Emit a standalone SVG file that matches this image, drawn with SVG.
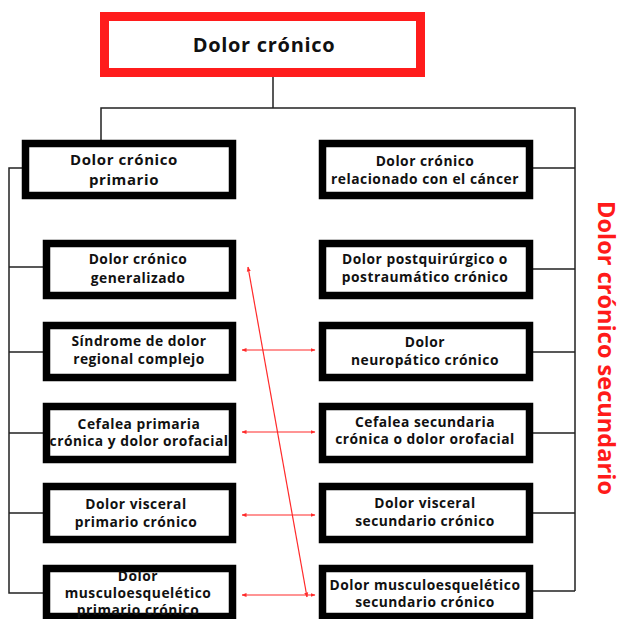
<svg xmlns="http://www.w3.org/2000/svg" width="624" height="619" viewBox="0 0 624 619">
<defs>
<style>
.box{fill:#fff;stroke:#000;stroke-width:7.5}
.t{font-family:"Open Sans","Noto Sans","DejaVu Sans",sans-serif;font-weight:bold;font-size:13.8px;letter-spacing:0.5px;fill:#111;text-anchor:middle}
.c{fill:none;stroke:#222;stroke-width:1.5}
.r{fill:none;stroke:#ff2a2a;stroke-width:1.2;marker-start:url(#ah);marker-end:url(#ah)}
</style>
<marker id="ah" viewBox="0 0 10 10" refX="9" refY="5" markerWidth="5" markerHeight="5" orient="auto-start-reverse" markerUnits="userSpaceOnUse">
<path d="M0,1 L10,5 L0,9 z" fill="#ff2a2a"/>
</marker>
</defs>
<rect width="624" height="619" fill="#fff"/>
<g id="connectors">
<path class="c" d="M273,77 V108 M101,140 V108 H575 V591"/>
<path class="c" d="M22,168 H9 V593 H43 M9,267 H43 M9,352 H43 M9,433 H43 M9,513 H43"/>
<path class="c" d="M533,168 H575 M533,269 H575 M533,352 H575 M533,433 H575 M533,513 H575 M533,591 H575"/>
<line class="r" x1="242" y1="350" x2="315" y2="350"/>
<line class="r" x1="242" y1="432" x2="315" y2="432"/>
<line class="r" x1="242" y1="515" x2="315" y2="515"/>
<line class="r" x1="242" y1="595" x2="315" y2="595"/>
<line class="r" x1="248" y1="267" x2="307" y2="597"/>
</g>
<g id="root">
<rect x="104.5" y="16.5" width="316" height="56" fill="#fff" stroke="#ff1c1c" stroke-width="9"/>
<text class="t" x="264" y="52" style="font-size:20px;letter-spacing:0.7px">Dolor crónico</text>
</g>
<g id="primario">
<rect class="box" x="25.5" y="143.5" width="207" height="52"/>
<text class="t" x="124" y="165" style="font-size:15px;letter-spacing:0.6px">Dolor crónico</text>
<text class="t" x="124" y="185" style="font-size:15px;letter-spacing:0.6px">primario</text>
</g>
<g id="cancer">
<rect class="box" x="322.5" y="143.5" width="207" height="52"/>
<text class="t" x="425" y="166">Dolor crónico</text>
<text class="t" x="425" y="184">relacionado con el cáncer</text>
</g>
<g id="generalizado">
<rect class="box" x="46.5" y="243.5" width="186" height="52"/>
<text class="t" x="138" y="264">Dolor crónico</text>
<text class="t" x="138" y="283">generalizado</text>
</g>
<g id="postquirurgico">
<rect class="box" x="322.5" y="243.5" width="207" height="52"/>
<text class="t" x="425" y="264">Dolor postquirúrgico o</text>
<text class="t" x="425" y="282">postraumático crónico</text>
</g>
<g id="sindrome">
<rect class="box" x="46.5" y="325.5" width="186" height="52"/>
<text class="t" x="139" y="346">Síndrome de dolor</text>
<text class="t" x="139" y="364">regional complejo</text>
</g>
<g id="neuropatico">
<rect class="box" x="322.5" y="325.5" width="207" height="52"/>
<text class="t" x="425" y="347">Dolor</text>
<text class="t" x="425" y="365">neuropático crónico</text>
</g>
<g id="cefalea-primaria">
<rect class="box" x="46.5" y="406.5" width="186" height="53"/>
<text class="t" x="139" y="429">Cefalea primaria</text>
<text class="t" x="139" y="446">crónica y dolor orofacial</text>
</g>
<g id="cefalea-secundaria">
<rect class="box" x="322.5" y="406.5" width="207" height="53"/>
<text class="t" x="425" y="427">Cefalea secundaria</text>
<text class="t" x="425" y="444">crónica o dolor orofacial</text>
</g>
<g id="visceral-primario">
<rect class="box" x="46.5" y="486.5" width="186" height="53"/>
<text class="t" x="136" y="509">Dolor visceral</text>
<text class="t" x="136" y="527">primario crónico</text>
</g>
<g id="visceral-secundario">
<rect class="box" x="322.5" y="486.5" width="207" height="53"/>
<text class="t" x="425" y="508">Dolor visceral</text>
<text class="t" x="425" y="526">secundario crónico</text>
</g>
<g id="musculo-primario">
<rect class="box" x="46.5" y="568.5" width="186" height="48"/>
<text class="t" x="138" y="581">Dolor</text>
<text class="t" x="138" y="598">musculoesquelético</text>
<text class="t" x="138" y="615">primario crónico</text>
</g>
<g id="musculo-secundario">
<rect class="box" x="322.5" y="568.5" width="207" height="48"/>
<text class="t" x="425" y="590">Dolor musculoesquelético</text>
<text class="t" x="425" y="607">secundario crónico</text>
</g>
<g id="secundario-label">
<text class="t" transform="translate(598,348) rotate(90)" x="0" y="0" style="font-size:24px;letter-spacing:0;fill:#ff1a1a" textLength="294" lengthAdjust="spacingAndGlyphs">Dolor crónico secundario</text>
</g>
</svg>
